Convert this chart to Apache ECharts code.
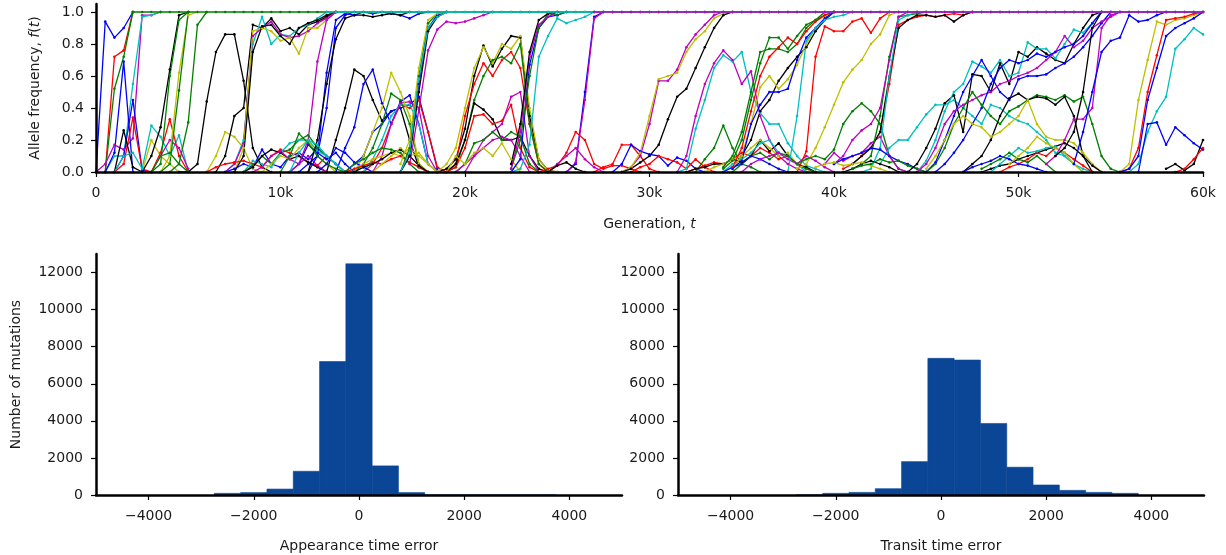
<!DOCTYPE html>
<html>
<head>
<meta charset="utf-8">
<script src="https://cdn.jsdelivr.net/npm/echarts@6/dist/echarts.min.js"></script>
<style>
  html, body { margin: 0; padding: 0; background: #fff; }
  #chart { width: 1226px; height: 555px; }
</style>
</head>
<body>
<div id="chart"></div>
<script>
// colour keys (matplotlib classic cycle)
const colors = { b: '#0000ff', g: '#008000', r: '#ff0000', c: '#00bfbf', m: '#bf00bf', y: '#bfbf00', k: '#000000' };

// trajectories: [colour, first sample (k generations), frequencies every 500 generations]
const earlyTraj = [
  ['b', 0, [0, .94, .84, .9, 1]],
  ['r', 0.5, [0, .72, .76, 1]],
  ['g', 0.5, [0, .52, .72, 1]],
  ['m', 0, [0, .05, .17, .14, .21, .98, .98, 1]],
  ['c', 0.5, [0, .1, .1, .55, .97, .98, 1]],
  ['b', 0.5, [0, .12, .69, 0]],
  ['b', 1, [0, .1, .45, .01, 0]],
  ['r', 1, [0, .05, .34, .02, 0]],
  ['k', 1, [0, .26, .03, 0]],
  ['c', 1, [0, .1, .12, .02, .29, .22, .1, .23, 0]],
  ['y', 2.5, [0, .2, .1, .05, 0]],
  ['r', 3, [0, .12, .33, .1, 0]],
  ['m', 3, [0, .1, .2, .15, .02]],
  ['g', 3, [0, .1, .12, .05, 0]],
  ['k', 2.5, [0, .1, .28, .64, .98, 1]],
  ['g', 3, [0, .05, .6, .95, 1]],
  ['y', 3.5, [0, .1, .62, .98, 1]],
  ['g', 3.5, [0, .05, .51, 1]],
  ['g', 4, [0, .05, .31, .92, 1]],
  ['k', 4.5, [0, 0, .05, .44, .75, .86, .86, .57, .15, .03, 0]],
  ['y', 6, [0, .1, .25, .22, .15, .02, 0]],
  ['k', 6.5, [0, .1, .35, .4, .92, .9, .96, .88, .9, .86, .92, .94, .97, 1]],
  ['c', 7, [0, .05, .2, .8, .97, .8, .86, .85, .9, .92, .96, 1]],
  ['m', 7, [0, .05, .18, .85, .9, .94, .86, .84, .85, .88, .93, .96, 1]],
  ['y', 7.5, [0, .15, .88, .9, .88, .82, .84, .74, .9, .9, .95, 1]],
  ['k', 7.5, [0, .1, .75, .91, .92, .85, .8, .9, .93, .95, .98, 1]],
  ['r', 6, [0, .03, .05, .06, .07, .05, .03, .1, .14, .12, .1, .06, .04, .1, .05, 0]],
  ['b', 7, [0, .02, .05, .03, .14, .05, .03, .1, .12, .08, .15, .1, .05, 0]],
  ['g', 8, [0, .04, .1, .05, .12, .14, .2, .23, .15, .1, .05, 0]],
  ['c', 8, [0, .07, .05, .03, .12, .18, .2, .2, .13, .1, .05, 0]],
  ['k', 8, [0, .03, .1, .14, .12, .08, .1, .06, .03, 0]],
  ['y', 9, [0, .05, .1, .08, .15, .2, .1, .05, 0]],
  ['m', 8.5, [0, .03, .1, .13, .08, .05, .1, .04, 0]],
  ['b', 10.5, [0, .05, .17, .12, .08, .12, .05, 0]]
];

const midTraj = [
  ['m', 10.5, [0, .05, .2, .69, .95, 1]],
  ['b', 11, [0, .05, .1, .4, .9, .98, 1]],
  ['b', 11.5, [0, .1, .62, .95, .99, .98, 1, .99, 1, .99, .98, .96, .99, 1]],
  ['k', 11.5, [0, .2, .55, .83, .96, .98, .98, .97, .98, .99, .98, 1]],
  ['k', 12.5, [0, .2, .4, .64, .6, .45, .32, .38, .4, .2, .03, 0]],
  ['b', 13, [0, .15, .28, .55, .64, .43, .3, .44, .48, .3, .05, 0]],
  ['b', 13.5, [0, .05, .1, .25, .3, .38, .4, .42, .47, .25, .02]],
  ['r', 14.5, [0, .05, .15, .3, .42, .4, .45, .25, .03, 0]],
  ['c', 14.5, [0, .08, .2, .35, .42, .42, .3, .05, 0]],
  ['m', 15, [0, .1, .3, .43, .44, .4, .1, 0]],
  ['g', 14, [0, .05, .15, .3, .49, .45, .3, .05, 0]],
  ['y', 14, [0, .1, .25, .4, .62, .5, .35, .05, 0]],
  ['g', 10, [0, .1, .24, .18, .1, .05, .02, 0]],
  ['c', 10.5, [0, .12, .2, .17, .1, .05, 0]],
  ['b', 12, [0, .05, .15, .12, .06, .03, 0]],
  ['y', 13.5, [0, .02, .05, .08, .1, .12, .1, .15, .1, .05, 0]],
  ['r', 13.5, [0, .02, .04, .06, .05, .08, .1, .06, .03, 0]],
  ['g', 13.5, [0, .05, .08, .12, .15, .14, .12, .05, 0]],
  ['k', 14, [0, .03, .05, .08, .12, .14, .1, .04, 0]],
  ['y', 15, [0, .05, .1, .15, .1, .12, .05, 0]],
  ['g', 16.5, [0, .15, .6, .93, .99, 1]],
  ['b', 16.5, [0, .1, .55, .9, .98, 1]],
  ['k', 16.5, [0, .1, .5, .88, .97, 1]],
  ['y', 16.5, [.05, .2, .65, .95, .99, 1]],
  ['c', 16.5, [0, .12, .58, .9, .97, 1]],
  ['m', 17, [.05, .39, .76, .89, .94, .93, .94, .96, .98, 1]],
  ['k', 18.5, [0, .02, .08, .27, .6, .79, .66, .77, .85, .84, .35, .08, .01, 0]],
  ['y', 18.5, [0, .05, .15, .4, .65, .78, .68, .8, .77, .85, .4, .08, .01, 0]],
  ['r', 19, [0, .05, .35, .55, .68, .6, .7, .75, .65, .3, .05, 0]],
  ['g', 19, [0, .03, .2, .45, .6, .7, .72, .68, .8, .3, .05, 0]],
  ['k', 19, [0, .05, .2, .43, .39, .33, .2, .2, .22, .1, .02, 0]],
  ['r', 19, [0, .03, .15, .35, .36, .3, .32, .42, .15, .03, 0]],
  ['m', 20, [0, .1, .2, .25, .3, .47, .5, .1, 0]],
  ['g', 19.5, [0, .05, .18, .2, .25, .2, .25, .22, .05, 0]],
  ['m', 19.5, [0, .05, .1, .15, .2, .22, .2, .1, 0]],
  ['y', 19, [0, .1, .05, .12, .15, .1, .18, .08, 0]],
  ['b', 22.5, [0, .08, .67, .9, .97, .98, 1]],
  ['g', 22.5, [.02, .2, .6, .9, .99, .98, 1]],
  ['m', 22.5, [.02, .25, .72, .92, .97, 1]],
  ['k', 22.5, [.05, .3, .75, .95, .99, 1]],
  ['c', 22.5, [0, .02, .17, .72, .85, .96, .93, .95, .97, 1]],
  ['r', 24, [0, .02, .04, .12, .25, .2, .05, .02, .04, .04, .02, 0]],
  ['r', 27, [0, .03, .05, .17, .17, .1, .02, 0]],
  ['m', 24.5, [0, .05, .1, .15, .08, .03, 0]],
  ['b', 25.5, [0, .05, .5, .97, 1]],
  ['m', 25.5, [0, .06, .45, .96, 1]],
  ['k', 24.5, [0, .04, .06, .02, 0]]
];

const lateTraj = [
  ['b', 28, [0, .05, .17, .13, .11, .1, .04, .09, .07, .02, 0]],
  ['r', 29, [0, .03, .05, .1, .08, .06, .02, .08, .03, 0]],
  ['m', 28.5, [0, .03, .1, .3, .57, .57, .64, .78, .86, .92, .98, 1]],
  ['y', 28.5, [0, .03, .12, .35, .58, .6, .62, .75, .83, .88, .96, .99, 1]],
  ['k', 28.5, [0, .02, .06, .1, .17, .33, .47, .52, .65, .78, .9, .98, 1]],
  ['c', 31.5, [0, .02, .27, .45, .65, .73, .69, .75, .5, .37, .3, .3, .18, .1, .04, .02, 0]],
  ['m', 31.5, [0, .1, .35, .55, .68, .76, .7, .55, .63, .35, .2, .1, .05, .02, 0]],
  ['g', 32.5, [0, .08, .15, .29, .15, .05, .03, 0]],
  ['r', 32, [0, .02, .04, .06, .05, .08, .12, .1, .15, .12, .08, .1, .05, .02, 0]],
  ['k', 32, [0, .02, .03, .05, .05, .08, .06, .1, .2, .13, .18, .1, .05, .03, 0]],
  ['y', 33, [0, .03, .05, .08, .1, .15, .2, .15, .1, .12, .05, 0]],
  ['c', 34, [0, .05, .08, .12, .18, .2, .12, .1, .05, 0]],
  ['g', 34.5, [0, .05, .1, .12, .08, .12, .1, .05, .02, 0]],
  ['b', 34, [0, .03, .05, .1, .08, .05, .02, 0]],
  ['m', 35, [0, .05, .08, .1, .12, .08, .05, .1, .07, .03, 0]],
  ['g', 34, [.02, .07, .2, .45, .68, .84, .84, .77, .85, .92, .95, .98, 1]],
  ['g', 34, [.03, .1, .25, .5, .75, .77, .77, .75, .8, .9, .95, 1]],
  ['r', 34.5, [.03, .15, .38, .6, .72, .78, .84, .8, .88, .94, .98, 1]],
  ['k', 34.5, [.02, .1, .2, .38, .45, .57, .65, .72, .78, .88, .95, 1]],
  ['y', 34.5, [.02, .1, .3, .53, .6, .52, .58, .67, .8, .9, .96, 1]],
  ['b', 34.5, [.02, .07, .3, .42, .5, .5, .52, .7, .84, .9, .96, 1]],
  ['c', 37, [0, 0, .35, .82, .9, .95, .97, .98, 1]],
  ['r', 37.5, [0, 0, .13, .72, .91, .88, .88, .94, .96, .87, .96, 1]],
  ['y', 38, [.02, .05, .15, .28, .42, .56, .64, .7, .8, .86, .98, 1]],
  ['g', 38, [.05, .08, .1, .08, .14, .3, .38, .43, .38, .3, .1, .02, 0]],
  ['m', 39.5, [.05, .12, .07, .1, .12, .18, .22, .1, .02, 0]],
  ['r', 40.5, [.02, .05, .1, .15, .25, .55, .92, .95, .97, .98, .97, .98, .99, .98, 1]],
  ['k', 41, [.05, .1, .15, .25, .6, .9, .95, .98, .98, .97, .98, .94, .98, 1]],
  ['g', 41.5, [.05, .1, .35, .72, .97, .98, .99, 1]],
  ['m', 40, [.05, .1, .2, .26, .3, .4, .7, .97, 1]],
  ['c', 41.5, [0, .02, .15, .6, .95, .98, 1]],
  ['c', 42.5, [.05, .15, .2, .2, .28, .36, .42, .42, .45, .4, .35, .3, .42, .4, .35, .32, .3, .25, .2, .12, .1, .05, .02, 0]],
  ['b', 40, [.05, .08, .1, .12, .15, .14, .1, .07, .05, .02, 0]],
  ['k', 40.5, [0, .02, .05, .07, .05, .03, 0]],
  ['y', 39, [.03, .05, .06, .04, .05, .06, .04, .02, 0]],
  ['g', 41, [.02, .04, .05, .08, .06, .07, .04, .02, 0]],
  ['k', 44, [0, .05, .15, .27, .43, .48, .25, .61, .6, .5, .68, .55, .75, .72, .78, .74, .7, .68, .8, .9, .98, 1]],
  ['c', 44.5, [0, .07, .2, .38, .5, .55, .69, .66, .62, .7, .6, .62, .81, .77, .77, .71, .8, .89, .87, .93, 1]],
  ['b', 45, [0, .06, .2, .35, .5, .6, .7, .6, .5, .45, .58, .6, .6, .61, .65, .68, .72, .78, .85, .93, 1]],
  ['m', 44.5, [0, .05, .15, .3, .38, .42, .45, .48, .5, .55, .57, .6, .62, .65, .7, .75, .85, .78, .82, .9, .94, .97, 1]],
  ['b', 45.5, [0, .05, .12, .2, .3, .4, .55, .65, .7, .68, .7, .74, .72, .75, .78, .8, .85, .93, 1]],
  ['g', 45, [0, .05, .15, .3, .4, .5, .42, .35, .3, .38, .41, .45, .48, .47, .45, .48, .44, .47, .3, .1, .02, 0]],
  ['k', 47, [0, .05, .1, .2, .35, .46, .49, .45, .47, .46, .42, .47, .35, .1, 0]],
  ['y', 45, [.02, .1, .2, .3, .35, .3, .28, .22, .25, .3, .35, .45, .3, .22, .2, .2, .18, .12, .05, 0]],
  ['k', 48, [0, .02, .04, .05, .08, .1, .12, .14, .16, .18, .15, .1, .04, 0]],
  ['r', 49, [0, .03, .05, .08, .12, .1, .15, .12, .08, .04, 0]],
  ['c', 48.5, [0, .05, .1, .15, .12, .13, .15, .16, .1, .05, 0]],
  ['b', 47, [0, .03, .05, .07, .1, .08, .05, .04, .02, 0]],
  ['g', 48, [.02, .05, .08, .12, .08, .06, .1, .05, 0]],
  ['y', 49.5, [.05, .1, .15, .22, .18, .15, .12, .05, 0]],
  ['m', 51.5, [.05, .1, .2, .33, .33, .4, .9, .98, 1]],
  ['k', 52, [.1, .15, .25, .5, .9, 1]],
  ['b', 53, [.05, .25, .5, .75, .82, .84, .98, .94, .95, .98, 1]],
  ['y', 55.5, [0, .05, .45, .7, .94, .92, .95, .96, .98, 1]],
  ['r', 55.5, [0, .02, .15, .5, .73, .95, .96, .97, .99, 1]],
  ['b', 55.5, [0, .02, .1, .45, .65, .85, .9, .93, .96, 1]],
  ['c', 56, [0, .05, .25, .38, .47, .77, .83, .9, .86]],
  ['b', 56.5, [0, .3, .31, .17, .28, .23, .18, .14]],
  ['k', 58, [.02, .05, .01, .05, .2]],
  ['r', 58.5, [0, .02, .08, .15]]
];

// fixed alleles sitting at f = 1: [colour, from (k), to (k)]
const fixedRuns = [['g', 2, 60], ['c', 12.5, 60], ['m', 27, 60]];

// histograms, bins of width 500
const binCenters = [-2500, -2000, -1500, -1000, -500, 0, 500, 1000, 1500, 2000, 2500, 3000, 3500];
const appearanceCounts = [90, 130, 320, 1280, 7200, 12470, 1570, 130, 0, 0, 0, 0, 0];
const transitCounts = [0, 90, 140, 340, 1800, 7370, 7280, 3860, 1500, 540, 250, 140, 90];

const freqTicks = [0, 0.2, 0.4, 0.6, 0.8, 1.0];
const genTicks = [0, 10000, 20000, 30000, 40000, 50000, 60000];
const countTicks = [0, 2000, 4000, 6000, 8000, 10000, 12000];
const errTicks = [-4000, -2000, 0, 2000, 4000];

const FONT = 'DejaVu Sans';
const textColor = '#1a1a1a';
const barColor = '#0b4596';

function lineSeries(tr) {
  const col = colors[tr[0]];
  return {
    type: 'line', xAxisIndex: 0, yAxisIndex: 0,
    data: tr[2].map((v, i) => [(tr[1] + i * 0.5) * 1000, v]),
    symbol: 'circle', symbolSize: 2.6, showSymbol: true,
    lineStyle: { color: col, width: 1.3 },
    itemStyle: { color: col },
    silent: true, animation: false
  };
}

function fixedSeries(run) {
  const col = colors[run[0]];
  const pts = [];
  for (let t = run[1]; t <= run[2]; t += 0.5) pts.push([t * 1000, 1]);
  return {
    type: 'line', xAxisIndex: 0, yAxisIndex: 0, data: pts,
    symbol: 'circle', symbolSize: 2.6,
    lineStyle: { color: col, width: 1.3 }, itemStyle: { color: col },
    silent: true, animation: false
  };
}

function histSeries(idx, counts) {
  return {
    type: 'custom', xAxisIndex: idx, yAxisIndex: idx,
    data: binCenters.map((c, i) => [c, counts[i]]),
    encode: { x: 0, y: 1 },
    renderItem: function (params, api) {
      const c = api.value(0), v = api.value(1);
      const p0 = api.coord([c - 250, v]);
      const p1 = api.coord([c + 250, 0]);
      return {
        type: 'rect',
        shape: { x: p0[0], y: p0[1], width: p1[0] - p0[0], height: p1[1] - p0[1] },
        style: { fill: barColor, stroke: barColor, lineWidth: 0.6 }
      };
    },
    silent: true, animation: false
  };
}

const axisLine = { show: true, onZero: false, lineStyle: { color: '#000', width: 2.5 } };
const label = { color: textColor, fontFamily: FONT, fontSize: 14 };
const nameStyle = {
  color: textColor, fontFamily: FONT, fontSize: 14,
  rich: {
    a: { color: textColor, fontFamily: FONT, fontSize: 14 },
    i: { color: textColor, fontFamily: FONT, fontSize: 14, fontStyle: 'italic' }
  }
};
const minus = v => (v < 0 ? '\u2212' + Math.abs(v) : String(v));

function errAxis(grid, name) {
  return {
    type: 'value', gridIndex: grid, min: -5000, max: 5000, z: 10,
    axisLine: axisLine,
    axisTick: { show: true, length: 5, customValues: errTicks, lineStyle: { color: '#000', width: 1.2 } },
    axisLabel: Object.assign({ margin: 14, customValues: errTicks, formatter: minus }, label),
    splitLine: { show: false },
    name: name, nameLocation: 'middle', nameGap: 44, nameTextStyle: nameStyle
  };
}
function countAxis(grid, name) {
  return {
    type: 'value', gridIndex: grid, min: 0, max: 13000, z: 10,
    axisLine: axisLine,
    axisTick: { show: true, length: 5, customValues: countTicks, lineStyle: { color: '#000', width: 1.2 } },
    axisLabel: Object.assign({ margin: 13, customValues: countTicks, formatter: v => String(v) }, label),
    splitLine: { show: false },
    name: name, nameLocation: 'middle', nameGap: 73, nameTextStyle: nameStyle
  };
}

const chart = echarts.init(document.getElementById('chart'));
chart.setOption({
  animation: false,
  backgroundColor: '#fff',
  grid: [
    { left: 96, right: 23, top: 4, height: 168 },
    { left: 96, width: 526, top: 254, height: 241 },
    { left: 678, width: 526, top: 254, height: 241 }
  ],
  xAxis: [
    {
      type: 'value', gridIndex: 0, min: 0, max: 60000, z: 10,
      axisLine: axisLine,
      axisTick: { show: true, length: 5, customValues: genTicks, lineStyle: { color: '#000', width: 1.2 } },
      axisLabel: Object.assign({ margin: 14, customValues: genTicks, formatter: v => (v === 0 ? '0' : v / 1000 + 'k') }, label),
      splitLine: { show: false },
      name: '{a|Generation, }{i|t}', nameLocation: 'middle', nameGap: 45, nameTextStyle: nameStyle
    },
    errAxis(1, 'Appearance time error'),
    errAxis(2, 'Transit time error')
  ],
  yAxis: [
    {
      type: 'value', gridIndex: 0, min: 0, max: 1.05, z: 10,
      axisLine: axisLine,
      axisTick: { show: true, length: 5, customValues: freqTicks, lineStyle: { color: '#000', width: 1.2 } },
      axisLabel: Object.assign({ margin: 12, customValues: freqTicks, formatter: v => v.toFixed(1) }, label),
      splitLine: { show: false },
      name: '{a|Allele frequency, }{i|f}{a|(}{i|t}{a|)}', nameLocation: 'middle', nameGap: 54, nameTextStyle: nameStyle
    },
    countAxis(1, 'Number of mutations'),
    countAxis(2, '')
  ],
  series: []
    .concat(earlyTraj.map(lineSeries))
    .concat(midTraj.map(lineSeries))
    .concat(lateTraj.map(lineSeries))
    .concat(fixedRuns.map(fixedSeries))
    .concat([histSeries(1, appearanceCounts), histSeries(2, transitCounts)])
});
</script>
</body>
</html>
